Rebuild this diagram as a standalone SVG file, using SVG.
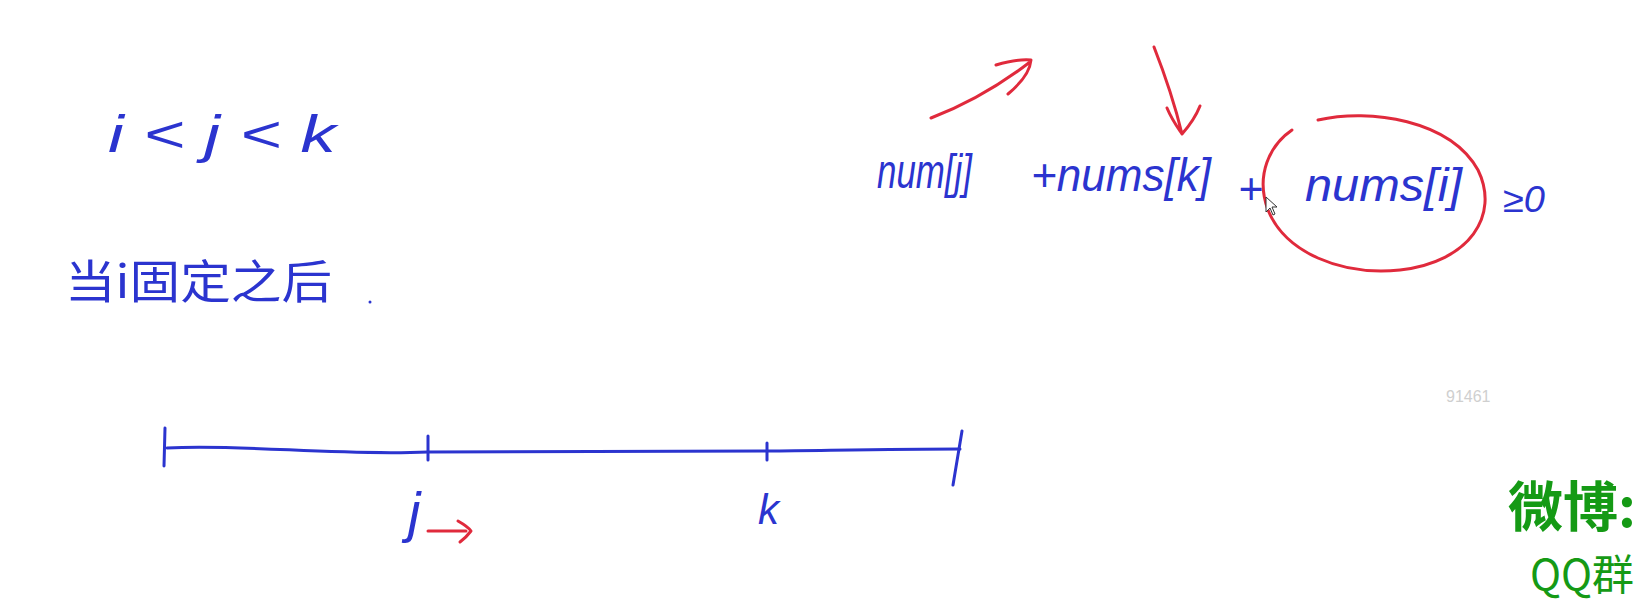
<svg xmlns="http://www.w3.org/2000/svg" width="1637" height="602" viewBox="0 0 1637 602">
<style>
.hw{fill:#2b34cf;font-family:"Liberation Sans","Noto Sans CJK SC",sans-serif;font-style:italic}
.cjk{fill:#2b34cf;font-family:"Noto Sans CJK SC",sans-serif}
.blue{fill:none;stroke:#2b34cf;stroke-width:3;stroke-linecap:round;stroke-linejoin:round}
.red{fill:none;stroke:#e02a3c;stroke-width:3;stroke-linecap:round;stroke-linejoin:round}
.green{fill:#159a15;font-family:"Noto Sans CJK SC",sans-serif}
</style>
<rect width="1637" height="602" fill="#ffffff"/>
<g id="condition">
<text class="hw" x="108" y="152" font-size="52" textLength="228" lengthAdjust="spacingAndGlyphs">i &lt; j &lt; k</text>
</g>
<g id="note">
<text class="cjk" x="65" y="298" font-size="46" textLength="267" lengthAdjust="spacingAndGlyphs">当i固定之后</text>
<circle cx="370" cy="302" r="1.5" fill="#2b34cf"/>
</g>
<g id="formula">
<text class="hw" x="877" y="188" font-size="48" textLength="95" lengthAdjust="spacingAndGlyphs">num[j]</text>
<text class="hw" x="1031" y="191" font-size="46" textLength="180" lengthAdjust="spacingAndGlyphs">+nums[k]</text>
<text class="hw" x="1238" y="204" font-size="44" textLength="25" lengthAdjust="spacingAndGlyphs">+</text>
<text class="hw" x="1305" y="201" font-size="46" textLength="157" lengthAdjust="spacingAndGlyphs">nums[i]</text>
<text class="hw" x="1503" y="212" font-size="36" textLength="42" lengthAdjust="spacingAndGlyphs">≥0</text>
</g>
<g id="connectors">
<path class="red" d="M931,118 C965,105 1000,85 1030,62 M996,65 C1010,61 1022,59 1031,60 C1030,72 1020,84 1008,94"/>
<path class="red" d="M1154,47 C1165,75 1175,105 1182,134 M1167,108 C1172,120 1178,128 1182,134 C1190,125 1196,116 1200,106"/>
<path class="red" d="M1318,120 C1370,108 1450,120 1478,170 C1500,215 1470,262 1400,270 C1340,276 1285,252 1268,210 C1255,175 1270,145 1292,130"/>
<path class="blue" d="M167,448 C250,444 330,456 428,452 L767,451 C850,450 900,449 960,449"/>
<path class="blue" d="M165,428 L164,466 M428,436 L428,460 M767,443 L767,460 M962,431 L953,485"/>
<path class="red" d="M428,531 L466,531 M458,521 C465,525 469,528 471,531 C468,535 464,539 460,542"/>
<path d="M1266,197 L1266,212 L1270,208 L1273,215 L1275,214 L1272,207 L1277,207 Z" fill="#ffffff" stroke="#333333" stroke-width="1"/>
</g>
<g id="axis-labels">
<text class="hw" x="408" y="531" font-size="56">j</text>
<text class="hw" x="758" y="524" font-size="42">k</text>
</g>
<g id="watermark">
<text x="1446" y="402" font-size="16" fill="#cfcfcf" font-family="Liberation Sans,sans-serif">91461</text>
<text class="green" x="1508" y="527" font-size="54" font-weight="700" textLength="128" lengthAdjust="spacingAndGlyphs">微博:</text>
<text class="green" x="1530" y="590" font-size="42" fill="#2aa82a" textLength="104" lengthAdjust="spacingAndGlyphs">QQ群</text>
</g>
</svg>
